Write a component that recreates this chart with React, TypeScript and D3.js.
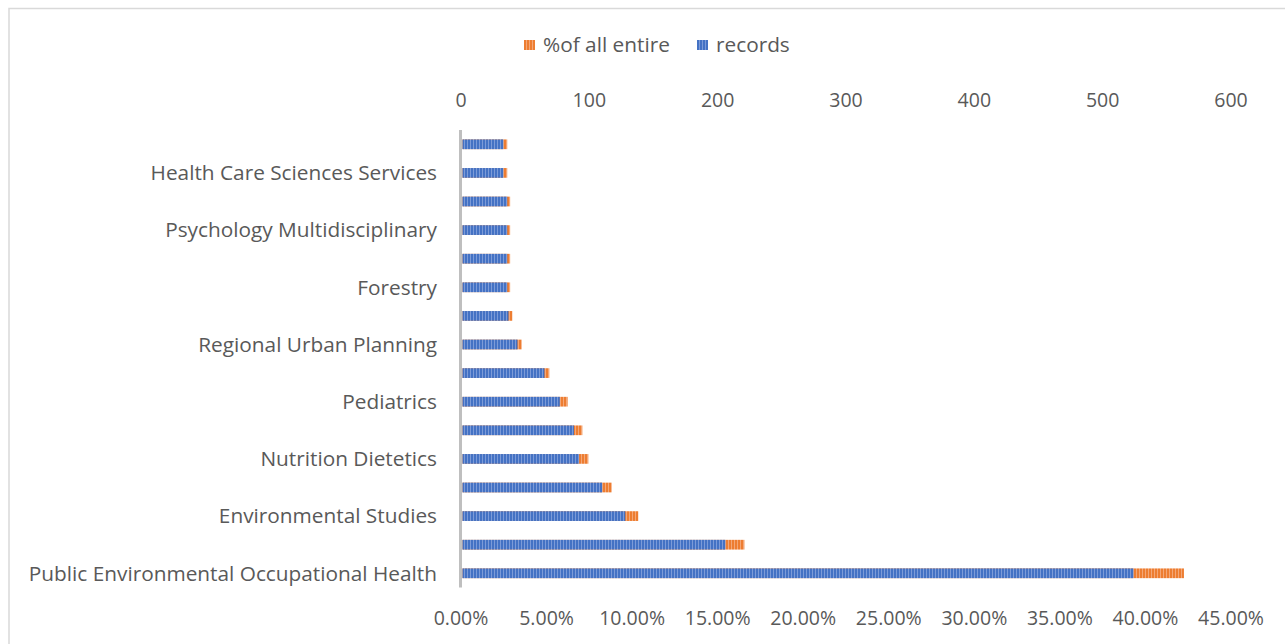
import React, { useEffect, useRef } from 'react';
import * as d3 from 'd3';

// bottom to top, as in the sheet
const categories = [
  'Public Environmental Occupational Health',
  'Environmental Sciences',
  'Environmental Studies',
  'Sport Sciences',
  'Nutrition Dietetics',
  'Urban Studies',
  'Pediatrics',
  'Medicine General Internal',
  'Regional Urban Planning',
  'Geography',
  'Forestry',
  'Transportation',
  'Psychology Multidisciplinary',
  'Green Sustainable Science Technology',
  'Health Care Sciences Services',
  'Ecology',
];
const records = [524, 206, 128, 110, 92, 88, 77, 65, 44, 37, 36, 36, 36, 36, 33, 33];
const pctAll = [42.25, 16.56, 10.36, 8.81, 7.44, 7.09, 6.23, 5.16, 3.55, 3.0, 2.87, 2.87, 2.87, 2.87, 2.7, 2.7];
const recordTicks = [0, 100, 200, 300, 400, 500, 600];
const pctTicks = [0, 5, 10, 15, 20, 25, 30, 35, 40, 45];

const App: React.FC = () => {
  const svgRef = useRef<SVGSVGElement | null>(null);

  useEffect(() => {
    if (!svgRef.current) return;
    const svg = d3.select(svgRef.current);
    svg.selectAll('*').remove();

    const font = '"Open Sans", Lato, sans-serif';
    const tickSize = 19.5;
    const labelSize = 20.8;
    const textColor = '#595959';
    const left = 461;
    const right = 1231;
    const top = 130;
    const bottom = 587.6;

    // striped fills
    const defs = svg.append('defs');
    const stripes = [
      { id: 'blueStripe', dark: '#4472C4', light: '#7C9BD8' },
      { id: 'orangeStripe', dark: '#ED7D31', light: '#F4A777' },
    ];
    stripes.forEach(s => {
      const p = defs.append('pattern')
        .attr('id', s.id)
        .attr('patternUnits', 'userSpaceOnUse')
        .attr('width', 3)
        .attr('height', 10);
      p.append('rect').attr('width', 3).attr('height', 10).attr('fill', s.dark);
      p.append('rect').attr('x', 2).attr('width', 1).attr('height', 10).attr('fill', s.light);
    });

    // frame
    svg.append('rect')
      .attr('x', 9).attr('y', 8.5)
      .attr('width', 1290).attr('height', 700)
      .attr('fill', '#fff')
      .attr('stroke', '#D9D9D9')
      .attr('stroke-width', 1.5);

    const xRec = d3.scaleLinear().domain([0, 600]).range([left, right]);
    const xPct = d3.scaleLinear().domain([0, 45]).range([left, right]);
    const y = d3.scaleBand()
      .domain(categories)
      .range([bottom, top])
      .paddingInner(0.66)
      .paddingOuter(0.33);

    const data = categories.map((c, i) => ({ name: c, rec: records[i], pct: pctAll[i] }));

    // % series (secondary axis) behind
    svg.append('g').selectAll('rect')
      .data(data)
      .enter()
      .append('rect')
      .attr('x', left + 1.5)
      .attr('y', d => y(d.name) || 0)
      .attr('width', d => xPct(d.pct) - left - 1.5)
      .attr('height', y.bandwidth())
      .attr('fill', 'url(#orangeStripe)');

    // records series in front
    svg.append('g').selectAll('rect')
      .data(data)
      .enter()
      .append('rect')
      .attr('x', left + 1.5)
      .attr('y', d => y(d.name) || 0)
      .attr('width', d => xRec(d.rec) - left - 1.5)
      .attr('height', y.bandwidth())
      .attr('fill', 'url(#blueStripe)');

    // category axis line
    svg.append('line')
      .attr('x1', left - 0.5).attr('x2', left - 0.5)
      .attr('y1', top).attr('y2', bottom)
      .attr('stroke', '#BFBFBF')
      .attr('stroke-width', 3);

    // category labels, every other one
    svg.append('g').selectAll('text')
      .data(categories.filter((_, i) => i % 2 === 0))
      .enter()
      .append('text')
      .attr('x', 437)
      .attr('y', d => (y(d) || 0) + y.bandwidth() / 2)
      .attr('dy', '0.35em')
      .attr('text-anchor', 'end')
      .attr('font-family', font)
      .attr('font-size', labelSize)
      .attr('fill', textColor)
      .text(d => d);

    // top axis (records)
    svg.append('g').selectAll('text')
      .data(recordTicks)
      .enter()
      .append('text')
      .attr('x', d => xRec(d))
      .attr('y', 100)
      .attr('dy', '0.35em')
      .attr('text-anchor', 'middle')
      .attr('font-family', font)
      .attr('font-size', tickSize)
      .attr('fill', textColor)
      .text(d => String(d));

    // bottom axis (%)
    svg.append('g').selectAll('text')
      .data(pctTicks)
      .enter()
      .append('text')
      .attr('x', d => xPct(d))
      .attr('y', 618)
      .attr('dy', '0.35em')
      .attr('text-anchor', 'middle')
      .attr('font-family', font)
      .attr('font-size', tickSize)
      .attr('fill', textColor)
      .text(d => d.toFixed(2) + '%');

    // legend
    const legend = [
      { label: '%of all entire', fill: 'url(#orangeStripe)', x: 524 },
      { label: 'records', fill: 'url(#blueStripe)', x: 697 },
    ];
    const lg = svg.append('g').selectAll('g')
      .data(legend)
      .enter()
      .append('g')
      .attr('transform', d => `translate(${d.x},45)`);
    lg.append('rect')
      .attr('x', 0).attr('y', -5)
      .attr('width', 11).attr('height', 10)
      .attr('fill', d => d.fill);
    lg.append('text')
      .attr('x', 19)
      .attr('dy', '0.35em')
      .attr('font-family', font)
      .attr('font-size', labelSize)
      .attr('fill', textColor)
      .text(d => d.label);
  }, []);

  return (
    <svg
      ref={svgRef}
      width={1285}
      height={644}
      style={{ position: 'absolute', left: 0, top: 0, display: 'block' }}
    />
  );
};

export default App;
